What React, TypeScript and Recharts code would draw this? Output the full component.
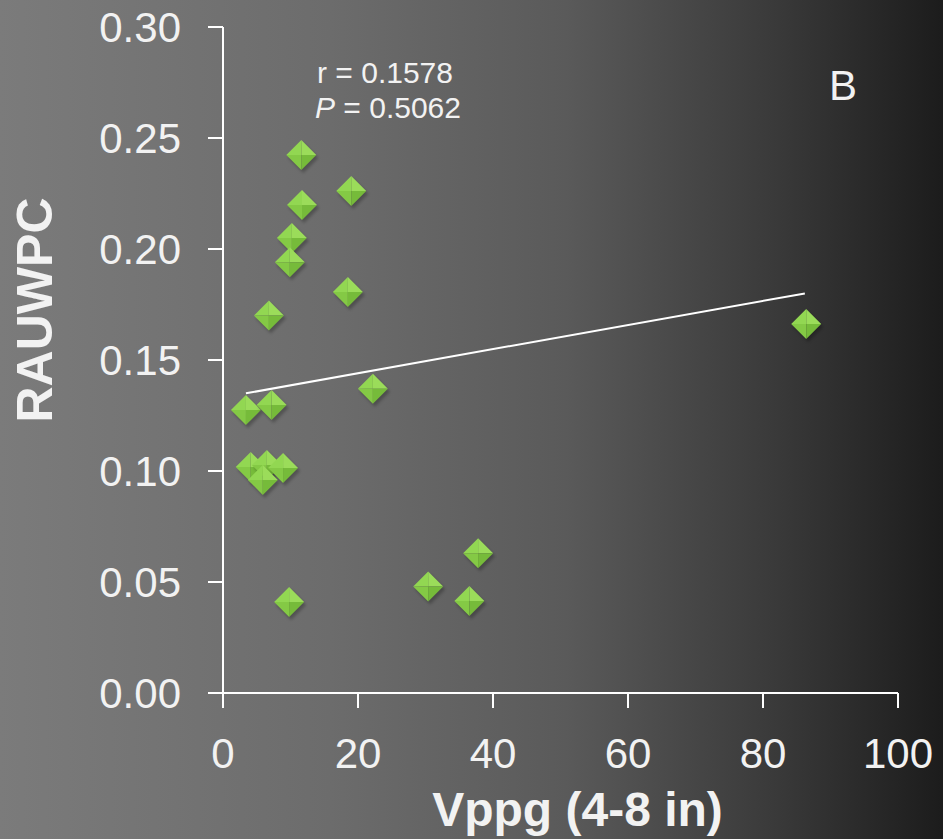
import React from 'react';
import { ScatterChart, Scatter, XAxis, YAxis, Label, Customized } from 'recharts';

const vppg = [11.6, 19.0, 11.7, 10.2, 9.9, 18.5, 6.8, 3.4, 7.2, 22.2, 4.1, 6.5, 8.9, 5.9, 9.8, 37.8, 30.4, 36.5, 86.4];
const rauwpc = [0.2423, 0.2261, 0.2198, 0.205, 0.194, 0.1806, 0.170, 0.1275, 0.1297, 0.137, 0.1018, 0.1027, 0.1013, 0.096, 0.041, 0.063, 0.048, 0.0414, 0.1662];
const trendX = [3.4, 86.2];
const trendY = [0.135, 0.180];
const xTicks = [0, 20, 40, 60, 80, 100];
const yTicks = [0, 0.05, 0.1, 0.15, 0.2, 0.25, 0.3];

const points = vppg.map((x, i) => ({ x, y: rauwpc[i] }));
const trend = trendX.map((x, i) => ({ x, y: trendY[i] }));

const FONT = '"Liberation Sans", Arial, sans-serif';

// faceted green diamond, lit from the top
const Diamond = (props: any) => {
  const { cx, cy } = props;
  if (cx == null || cy == null) return null;
  const r = 15;
  return (
    <g>
      <polygon
        points={`${cx + 2},${cy - r + 3} ${cx + r + 2},${cy + 3} ${cx + 2},${cy + r + 3} ${cx - r + 2},${cy + 3}`}
        fill="#000"
        opacity={0.25}
        filter="url(#soft)"
      />
      <polygon points={`${cx},${cy - r} ${cx + r},${cy} ${cx},${cy}`} fill="#9bdc5a" />
      <polygon points={`${cx},${cy - r} ${cx - r},${cy} ${cx},${cy}`} fill="#92d752" />
      <polygon points={`${cx - r},${cy} ${cx},${cy + r} ${cx},${cy}`} fill="#84c945" />
      <polygon points={`${cx + r},${cy} ${cx},${cy + r} ${cx},${cy}`} fill="#76bb3a" />
    </g>
  );
};

const Notes = () => (
  <g fontFamily={FONT} fill="#f2f2f2">
    <defs>
      <filter id="soft" x="-50%" y="-50%" width="200%" height="200%">
        <feGaussianBlur stdDeviation="1.5" />
      </filter>
    </defs>
    <text x={385} y={83} fontSize={30} textAnchor="middle">r = 0.1578</text>
    <text x={388} y={118} fontSize={30} textAnchor="middle">
      <tspan fontStyle="italic">P</tspan> = 0.5062
    </text>
    <text x={843} y={100} fontSize={42} textAnchor="middle">B</text>
  </g>
);

export default function App() {
  return (
    <div
      style={{
        position: 'absolute',
        left: 0,
        top: 0,
        width: 943,
        height: 839,
        background: 'linear-gradient(to right, #7b7b7b 0%, #6c6c6c 35%, #5a5a5a 60%, #3a3a3a 82%, #1c1c1c 100%)',
      }}
    >
      <ScatterChart width={943} height={839} margin={{ top: 27, right: 45, left: 123, bottom: 86 }}>
        <XAxis
          type="number"
          dataKey="x"
          domain={[0, 100]}
          ticks={xTicks}
          stroke="#ffffff"
          strokeWidth={2}
          tickSize={15}
          tickMargin={30}
          height={60}
          tick={{ fill: '#f2f2f2', fontSize: 42, fontFamily: FONT }}
        >
          <Label
            value="Vppg (4-8 in)"
            position="bottom"
            offset={39}
            dx={17}
            style={{ fill: '#f2f2f2', fontSize: 48, fontWeight: 'bold', fontFamily: FONT }}
          />
        </XAxis>
        <YAxis
          type="number"
          dataKey="y"
          domain={[0, 0.3]}
          ticks={yTicks}
          tickFormatter={(v: number) => v.toFixed(2)}
          stroke="#ffffff"
          strokeWidth={2}
          tickSize={15}
          tickMargin={27}
          width={100}
          tick={{ fill: '#f2f2f2', fontSize: 42, fontFamily: FONT }}
        >
          <Label
            content={() => (
              <text
                x={35}
                y={310}
                transform="rotate(-90 35 310)"
                textAnchor="middle"
                dominantBaseline="central"
                fill="#f2f2f2"
                fontSize={50}
                fontWeight="bold"
                fontFamily={FONT}
              >
                RAUWPC
              </text>
            )}
          />
        </YAxis>
        <Customized component={Notes} />
        <Scatter
          data={trend}
          line={{ stroke: '#ffffff', strokeWidth: 2 }}
          shape={() => <g />}
          isAnimationActive={false}
        />
        <Scatter data={points} shape={Diamond} isAnimationActive={false} />
      </ScatterChart>
    </div>
  );
}
